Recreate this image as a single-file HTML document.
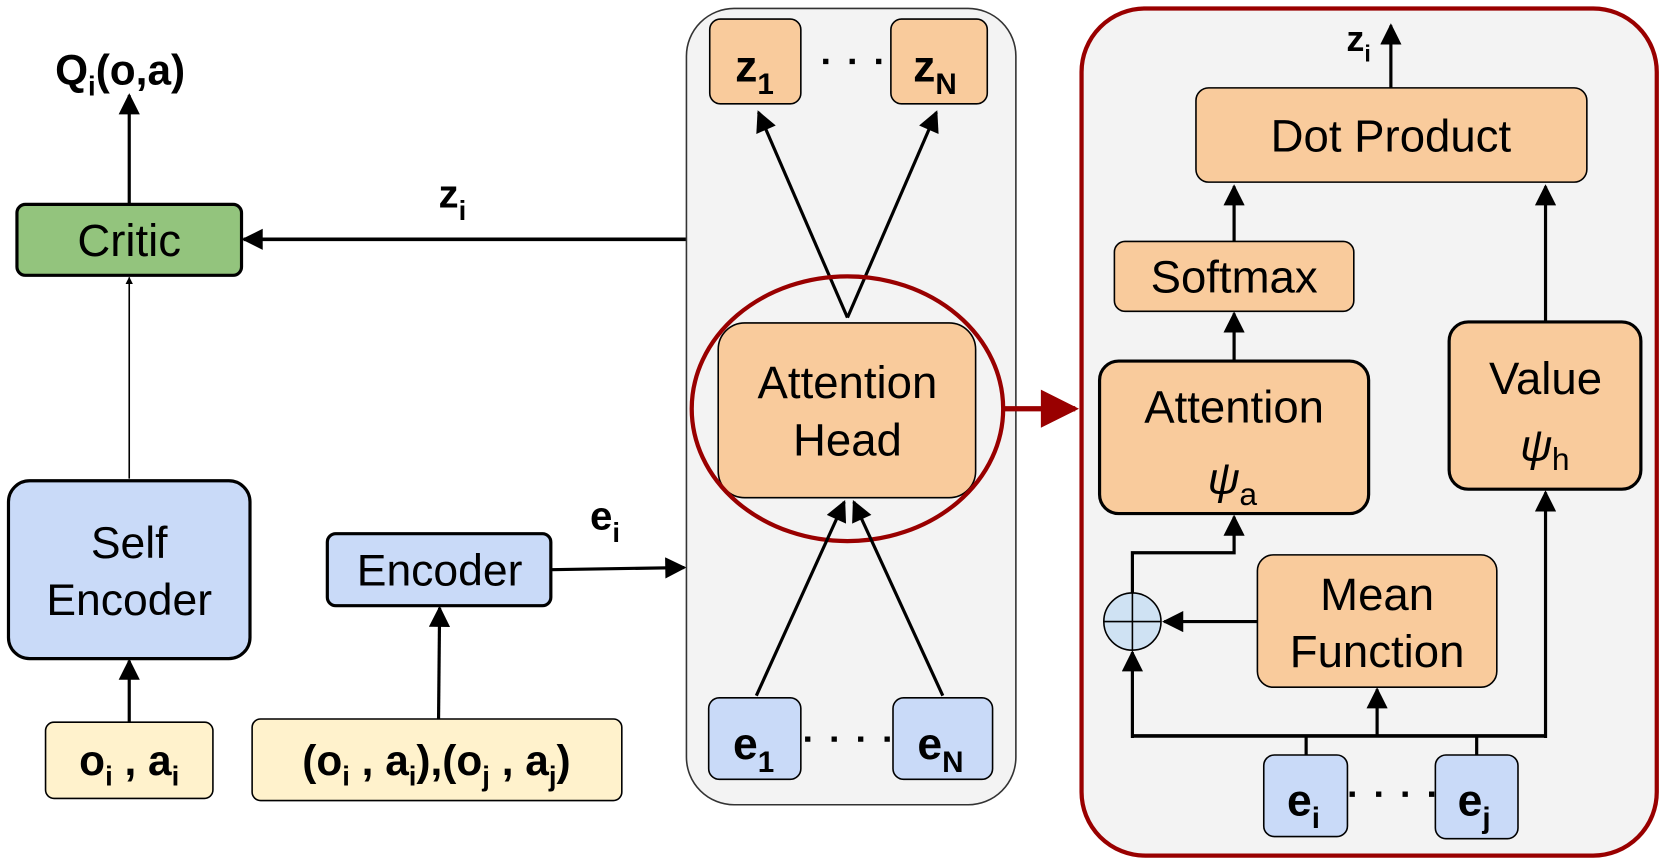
<!DOCTYPE html>
<html><head><meta charset="utf-8"><style>
html,body{margin:0;padding:0;background:#fff;}
svg{display:block;}
text{font-family:"Liberation Sans",Arial,sans-serif;fill:#000;}
.b{font-weight:bold;}
</style></head><body>
<svg width="1661" height="863" viewBox="0 0 1568 815" preserveAspectRatio="none" xmlns="http://www.w3.org/2000/svg">
<defs>
<marker id="ah" viewBox="0 0 10 10" refX="9" refY="5" markerWidth="7" markerHeight="7" markerUnits="userSpaceOnUse" orient="auto"><path d="M0,0 L10,5 L0,10 z" fill="#000"/></marker>
<marker id="a" viewBox="0 0 10 10" refX="9" refY="5" markerWidth="24" markerHeight="20" markerUnits="userSpaceOnUse" orient="auto"><path d="M0,0 L10,5 L0,10 z" fill="#000"/></marker>
<marker id="ar" viewBox="0 0 10 10" refX="9" refY="5" markerWidth="40" markerHeight="36" markerUnits="userSpaceOnUse" orient="auto"><path d="M0,0 L10,5 L0,10 z" fill="#990000"/></marker>
</defs>

<!-- left -->
<text x="52" y="80" font-size="40" class="b">Q<tspan font-size="26" dy="10">i</tspan><tspan dy="-10">(o,a)</tspan></text>
<line x1="122" y1="192" x2="122" y2="90" stroke="#000" stroke-width="3" marker-end="url(#a)"/>
<rect x="16" y="193" width="212" height="67" rx="8" fill="#93c47d" stroke="#000" stroke-width="3"/>
<text x="122" y="242" font-size="43" text-anchor="middle">Critic</text>
<line x1="122" y1="452" x2="122" y2="262" stroke="#000" stroke-width="1.5" marker-end="url(#ah)"/>
<rect x="8" y="454" width="228" height="168" rx="20" fill="#c9daf8" stroke="#000" stroke-width="3"/>
<text x="122" y="527" font-size="42" text-anchor="middle">Self</text>
<text x="122" y="581" font-size="42" text-anchor="middle">Encoder</text>
<line x1="122" y1="682" x2="122" y2="624" stroke="#000" stroke-width="3" marker-end="url(#a)"/>
<rect x="43" y="682" width="158" height="72" rx="8" fill="#fff2cc" stroke="#000" stroke-width="1.5"/>
<text x="122" y="732" font-size="40" class="b" text-anchor="middle">o<tspan font-size="26" dy="10">i</tspan><tspan dy="-10"> , a</tspan><tspan font-size="26" dy="10">i</tspan></text>
<rect x="238" y="679" width="349" height="77" rx="8" fill="#fff2cc" stroke="#000" stroke-width="1.5"/>
<text x="412" y="732" font-size="40" class="b" text-anchor="middle">(o<tspan font-size="26" dy="10">i</tspan><tspan dy="-10"> , a</tspan><tspan font-size="26" dy="10">i</tspan><tspan dy="-10">),(o</tspan><tspan font-size="26" dy="10">j</tspan><tspan dy="-10"> , a</tspan><tspan font-size="26" dy="10">j</tspan><tspan dy="-10">)</tspan></text>
<line x1="414" y1="679" x2="415" y2="574" stroke="#000" stroke-width="3" marker-end="url(#a)"/>
<rect x="309" y="504" width="211" height="68" rx="8" fill="#c9daf8" stroke="#000" stroke-width="3"/>
<text x="415" y="553" font-size="42" text-anchor="middle">Encoder</text>
<line x1="520" y1="538" x2="646" y2="536" stroke="#000" stroke-width="3" marker-end="url(#a)"/>
<text x="557" y="500" font-size="38" class="b">e<tspan font-size="26" dy="12">i</tspan></text>
<text x="414" y="196" font-size="38" class="b">z<tspan font-size="26" dy="12">i</tspan></text>
<line x1="648" y1="226" x2="230" y2="226" stroke="#000" stroke-width="3.5" marker-end="url(#a)"/>

<!-- middle panel -->
<rect x="648" y="8" width="311" height="752" rx="45" fill="#f3f3f3" stroke="#333" stroke-width="1.5"/>
<rect x="670" y="18" width="86" height="80" rx="10" fill="#f9cb9c" stroke="#000" stroke-width="1.5"/>
<text x="694" y="77" font-size="42" class="b">z<tspan font-size="28" dy="12">1</tspan></text>
<rect x="841" y="18" width="91" height="80" rx="10" fill="#f9cb9c" stroke="#000" stroke-width="1.5"/>
<text x="862" y="77" font-size="42" class="b">z<tspan font-size="28" dy="12">N</tspan></text>
<line x1="777" y1="58" x2="832" y2="58" stroke="#000" stroke-width="5" stroke-dasharray="5,20"/>
<line x1="800" y1="300" x2="716" y2="106" stroke="#000" stroke-width="3" marker-end="url(#a)"/>
<line x1="800" y1="300" x2="884" y2="106" stroke="#000" stroke-width="3" marker-end="url(#a)"/>
<rect x="678" y="305" width="243" height="165" rx="25" fill="#f9cb9c" stroke="#000" stroke-width="1.5"/>
<text x="800" y="376" font-size="43" text-anchor="middle">Attention</text>
<text x="800" y="430" font-size="43" text-anchor="middle">Head</text>
<ellipse cx="800" cy="386" rx="147" ry="125" fill="none" stroke="#990000" stroke-width="4"/>
<line x1="714" y1="657" x2="797" y2="474" stroke="#000" stroke-width="3" marker-end="url(#a)"/>
<line x1="890" y1="657" x2="806" y2="474" stroke="#000" stroke-width="3" marker-end="url(#a)"/>
<rect x="669" y="659" width="87" height="77" rx="10" fill="#c9daf8" stroke="#000" stroke-width="1.5"/>
<text x="692" y="717" font-size="42" class="b">e<tspan font-size="28" dy="12">1</tspan></text>
<rect x="843" y="659" width="94" height="77" rx="10" fill="#c9daf8" stroke="#000" stroke-width="1.5"/>
<text x="866" y="717" font-size="42" class="b">e<tspan font-size="28" dy="12">N</tspan></text>
<line x1="760" y1="698" x2="842" y2="698" stroke="#000" stroke-width="5" stroke-dasharray="5,20"/>
<line x1="948" y1="386" x2="1015" y2="386" stroke="#990000" stroke-width="5" marker-end="url(#ar)"/>

<!-- right panel -->
<rect x="1021" y="8" width="543" height="800" rx="60" fill="#f3f3f3" stroke="#990000" stroke-width="4"/>
<line x1="1313" y1="83" x2="1313" y2="24" stroke="#000" stroke-width="3" marker-end="url(#a)"/>
<text x="1271" y="48" font-size="34" class="b">z<tspan font-size="22" dy="10">i</tspan></text>
<rect x="1129" y="83" width="369" height="89" rx="12" fill="#f9cb9c" stroke="#000" stroke-width="1.5"/>
<text x="1313" y="143" font-size="43" text-anchor="middle">Dot Product</text>
<line x1="1165" y1="228" x2="1165" y2="176" stroke="#000" stroke-width="3" marker-end="url(#a)"/>
<rect x="1052" y="228" width="226" height="66" rx="10" fill="#f9cb9c" stroke="#000" stroke-width="1.5"/>
<text x="1165" y="276" font-size="43" text-anchor="middle">Softmax</text>
<line x1="1165" y1="340" x2="1165" y2="296" stroke="#000" stroke-width="3" marker-end="url(#a)"/>
<rect x="1038" y="341" width="254" height="144" rx="18" fill="#f9cb9c" stroke="#000" stroke-width="3"/>
<text x="1165" y="399" font-size="43" text-anchor="middle">Attention</text>
<text x="1140" y="466" font-size="42" font-style="italic" font-family="Liberation Serif,serif">ψ</text><text x="1170" y="477" font-size="30">a</text>
<line x1="1459" y1="304" x2="1459" y2="176" stroke="#000" stroke-width="3" marker-end="url(#a)"/>
<rect x="1368" y="304" width="181" height="158" rx="18" fill="#f9cb9c" stroke="#000" stroke-width="3"/>
<text x="1459" y="372" font-size="43" text-anchor="middle">Value</text>
<text x="1435" y="435" font-size="42" font-style="italic" font-family="Liberation Serif,serif">ψ</text><text x="1465" y="444" font-size="30">h</text>
<rect x="1187" y="524" width="226" height="125" rx="15" fill="#f9cb9c" stroke="#000" stroke-width="1.5"/>
<text x="1300" y="576" font-size="43" text-anchor="middle">Mean</text>
<text x="1300" y="630" font-size="43" text-anchor="middle">Function</text>
<polyline points="1069,560 1069,522 1165,522 1165,488" fill="none" stroke="#000" stroke-width="3" marker-end="url(#a)"/>
<line x1="1187" y1="587" x2="1099" y2="587" stroke="#000" stroke-width="3" marker-end="url(#a)"/>
<ellipse cx="1069" cy="587" rx="27" ry="27" fill="#cfe2f3" stroke="#000" stroke-width="1.5"/>
<line x1="1042" y1="587" x2="1096" y2="587" stroke="#000" stroke-width="1.5"/>
<line x1="1069" y1="560" x2="1069" y2="614" stroke="#000" stroke-width="1.5"/>
<polyline points="1069,695 1459,695" fill="none" stroke="#000" stroke-width="3.5"/>
<line x1="1069" y1="697" x2="1069" y2="616" stroke="#000" stroke-width="3" marker-end="url(#a)"/>
<line x1="1300" y1="695" x2="1300" y2="651" stroke="#000" stroke-width="3" marker-end="url(#a)"/>
<line x1="1459" y1="697" x2="1459" y2="465" stroke="#000" stroke-width="3" marker-end="url(#a)"/>
<line x1="1233" y1="713" x2="1233" y2="695" stroke="#000" stroke-width="3"/>
<line x1="1394" y1="713" x2="1394" y2="695" stroke="#000" stroke-width="3"/>
<rect x="1193" y="713" width="79" height="77" rx="10" fill="#c9daf8" stroke="#000" stroke-width="1.5"/>
<text x="1215" y="770" font-size="42" class="b">e<tspan font-size="28" dy="12">i</tspan></text>
<rect x="1355" y="713" width="78" height="79" rx="10" fill="#c9daf8" stroke="#000" stroke-width="1.5"/>
<text x="1376" y="770" font-size="42" class="b">e<tspan font-size="28" dy="12">j</tspan></text>
<line x1="1274" y1="750" x2="1354" y2="750" stroke="#000" stroke-width="5" stroke-dasharray="5,20"/>
</svg>
</body></html>
